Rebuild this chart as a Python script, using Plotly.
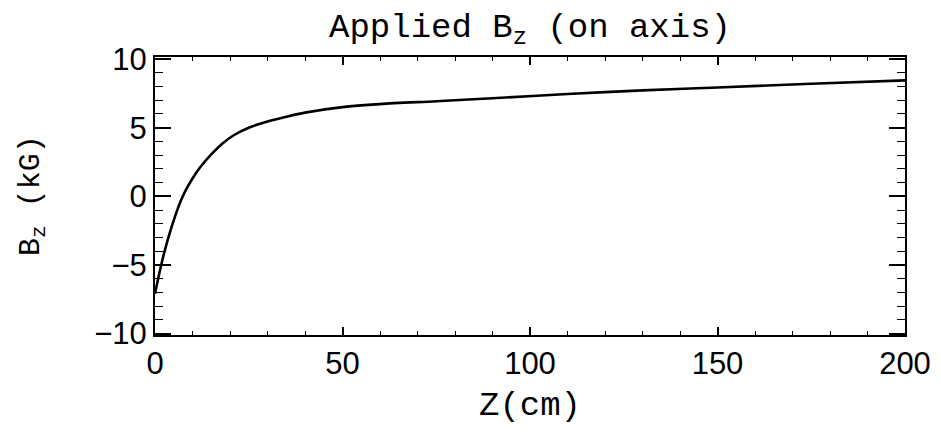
import plotly.graph_objects as go

# Data (z in cm, Bz in kG)
z_cm = [0, 1, 2, 3, 4, 5, 6, 7, 8, 10, 12, 15, 18, 21, 25, 30, 35, 40, 50, 60, 75, 90, 110, 130, 150, 175, 200]
bz_kg = [-7.1, -5.8, -4.6, -3.55, -2.6, -1.75, -0.95, -0.25, 0.35, 1.3, 2.1, 3.05, 3.85, 4.45, 5.0, 5.45, 5.8, 6.1, 6.5, 6.72, 6.93, 7.15, 7.45, 7.72, 7.93, 8.2, 8.45]

x_ticks = [0, 50, 100, 150, 200]
y_ticks = [-10, -5, 0, 5, 10]

MONO = "Liberation Mono"
SANS = "Liberation Sans"

# the page body has an 8px margin; size the figure so the plot frame lands
# at x 155..905, y 57..335 in the 941x437 window
W, H = 933, 429

fig = go.Figure(
    go.Scatter(x=z_cm, y=bz_kg, mode="lines",
               line=dict(color="black", width=2.6, shape="spline", smoothing=0.9),
               showlegend=False)
)

fig.update_layout(
    width=W, height=H,
    margin=dict(l=147, r=36, t=49, b=102, autoexpand=False),
    paper_bgcolor="white", plot_bgcolor="white",
    title=dict(text="Applied B<sub>z</sub> (on axis)", x=0.5, xref="paper",
               y=1 - 17 / H, yref="container", yanchor="middle", xanchor="center",
               automargin=False,
               font=dict(family=MONO, size=34, color="black")),
    annotations=[
        dict(text="Z(cm)", x=0.5, y=-0.255, xref="paper", yref="paper",
             xanchor="center", yanchor="middle", showarrow=False,
             font=dict(family=MONO, size=34, color="black")),
        dict(text="B<sub>z</sub> (kG)", x=(32 - 155) / 750, y=0.5, xref="paper", yref="paper",
             xanchor="center", yanchor="middle", showarrow=False, textangle=-90,
             font=dict(family=MONO, size=30, color="black")),
    ],
)

fig.update_xaxes(
    range=[0, 200], tickvals=x_ticks, ticks="inside", ticklen=8, tickwidth=1.5,
    tickcolor="black", showline=True, linecolor="black", linewidth=2,
    mirror="allticks", showgrid=False, zeroline=False, automargin=False,
    minor=dict(dtick=10, ticks="inside", ticklen=4, tickwidth=1, tickcolor="black", showgrid=False),
    tickfont=dict(family=SANS, size=31, color="black"),
)
fig.update_yaxes(
    range=[-10.1, 10.15], tickvals=y_ticks, ticks="inside", ticklen=16, tickwidth=1.5,
    tickcolor="black", showline=True, linecolor="black", linewidth=2,
    mirror="allticks", showgrid=False, zeroline=False, automargin=False,
    minor=dict(dtick=1, ticks="inside", ticklen=8, tickwidth=1, tickcolor="black", showgrid=False),
    tickfont=dict(family=SANS, size=31, color="black"),
)

fig.write_html("out.html")
